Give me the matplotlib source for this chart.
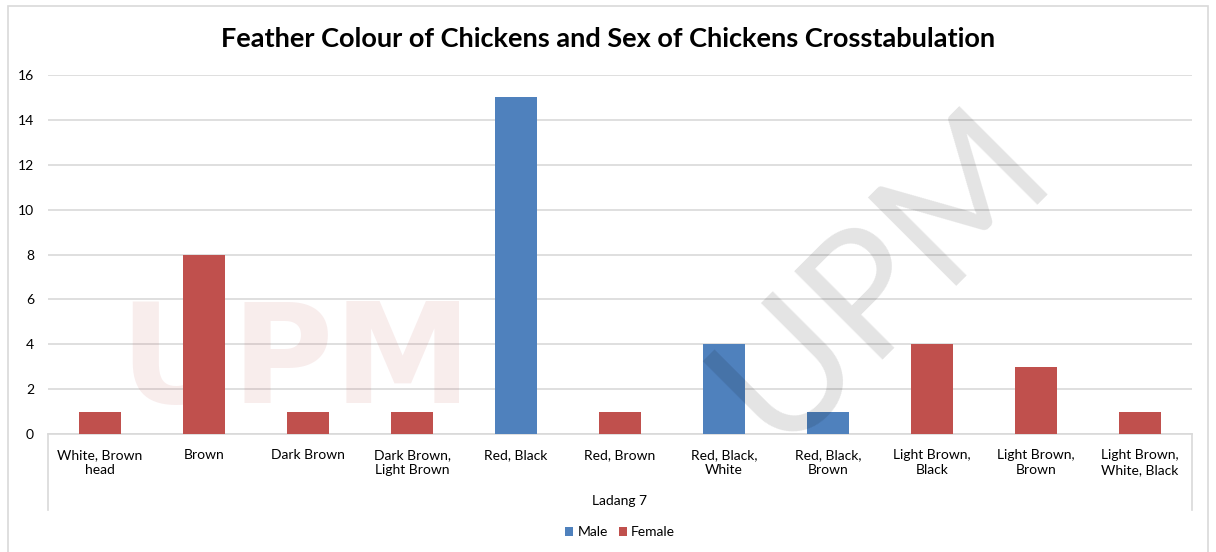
import matplotlib.pyplot as plt
import numpy as np
from matplotlib.patches import Rectangle

categories = ['White, Brown\nhead', 'Brown', 'Dark Brown', 'Dark Brown,\nLight Brown',
              'Red, Black', 'Red, Brown', 'Red, Black,\nWhite', 'Red, Black,\nBrown',
              'Light Brown,\nBlack', 'Light Brown,\nBrown', 'Light Brown,\nWhite, Black']
male = [0, 0, 0, 0, 15, 0, 4, 1, 0, 0, 0]
female = [1, 8, 1, 1, 0, 1, 0, 0, 4, 3, 1]
group_label = 'Ladang 7'
yticks = [0, 2, 4, 6, 8, 10, 12, 14, 16]

blue = '#4F81BD'
red = '#C0504D'
font = ['Lato', 'DejaVu Sans']
plt.rcParams['font.family'] = font

fig = plt.figure(figsize=(12.16, 5.52), dpi=100)

# chart frame
fig.patches.append(Rectangle((8 / 1216, -0.05), 1200 / 1216, 1.05 - 6 / 552, transform=fig.transFigure,
                             fill=False, edgecolor='#D9D9D9', lw=1.2))

# faint watermark
fig.text(0.098, 0.34, 'UPM', fontsize=100, fontweight='bold', color='#C0504D', alpha=0.10,
         ha='left', va='center', family='DejaVu Sans')
fig.text(0.725, 0.5, 'UPM', fontsize=125, color='#000000', alpha=0.11, rotation=45,
         ha='center', va='center')

ax = fig.add_axes([48 / 1216, 1 - 434 / 552, 1144 / 1216, (434 - 75) / 552])
ax.set_facecolor('none')
x = np.arange(len(categories))
ax.bar(x, male, width=0.4, color=blue, label='Male', zorder=3)
ax.bar(x, female, width=0.4, bottom=male, color=red, label='Female', zorder=3)

ax.set_xlim(-0.5, len(categories) - 0.5)
ax.set_ylim(0, 16)
ax.set_yticks(yticks)
ax.yaxis.grid(True, color='#D9D9D9', lw=1.2, zorder=0)
ax.tick_params(axis='y', length=0, labelsize=10, pad=10)
ax.set_xticks(x)
ax.set_xticklabels(categories, fontsize=10, linespacing=1.3)
ax.tick_params(axis='x', length=0, pad=11)
for s in ['top', 'right', 'left']:
    ax.spines[s].set_visible(False)
ax.spines['bottom'].set_color('#D9D9D9')
ax.spines['bottom'].set_linewidth(1.2)

# multi-level axis separators
for xv in [-0.5, len(categories) - 0.5]:
    ax.plot([xv, xv], [0, -3.4], color='#D9D9D9', lw=1.2, clip_on=False)
ax.text((len(categories) - 1) / 2, -2.98, group_label, ha='center', va='center', fontsize=10)

ax.set_title('Feather Colour of Chickens and Sex of Chickens Crosstabulation',
             fontsize=19.5, fontweight='bold', pad=20, x=0.49)

ax.legend(loc='center', bbox_to_anchor=(0.5, -0.273), ncol=2, frameon=False, fontsize=10,
          handlelength=0.6, handleheight=0.6, handletextpad=0.3, columnspacing=0.8)

fig.savefig('out.png', dpi=100)
